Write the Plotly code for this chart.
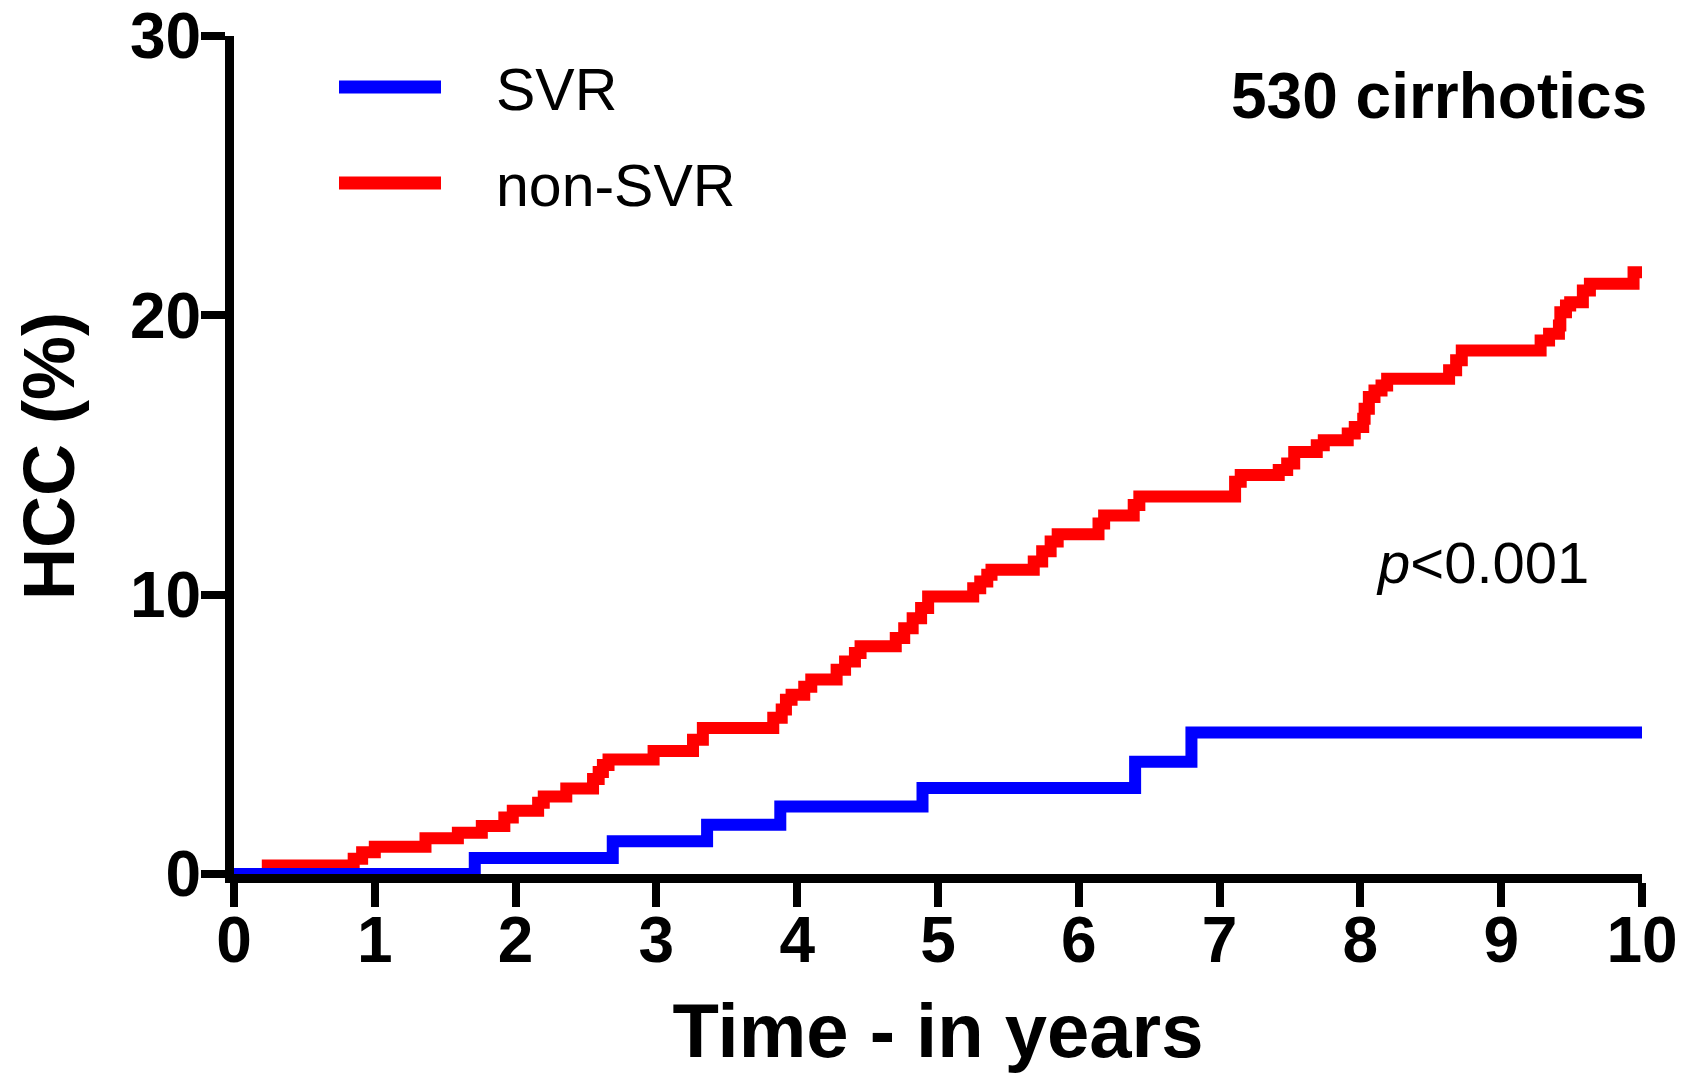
import plotly.graph_objects as go

# Cumulative HCC incidence (%) by follow-up time (years), step functions
svr_time = [0.0, 1.71, 2.69, 3.36, 3.88, 4.89, 6.40, 6.80, 10.0]
svr_pct = [0.0, 0.57, 1.17, 1.76, 2.42, 3.08, 4.02, 5.07, 5.07]

nonsvr_time = [0.0, 0.24, 0.85, 0.91, 1.00, 1.36, 1.59, 1.76, 1.92, 1.98,
               2.16, 2.20, 2.36, 2.55, 2.59, 2.62, 2.66, 2.98, 3.26, 3.33,
               3.83, 3.89, 3.92, 3.96, 4.05, 4.10, 4.28, 4.34, 4.41, 4.45,
               4.70, 4.76, 4.82, 4.88, 4.93, 5.25, 5.30, 5.35, 5.38, 5.68,
               5.74, 5.80, 5.85, 6.14, 6.18, 6.39, 6.43, 7.11, 7.15, 7.42,
               7.48, 7.53, 7.69, 7.74, 7.91, 7.96, 8.02, 8.03, 8.06, 8.10,
               8.15, 8.19, 8.63, 8.68, 8.72, 9.28, 9.34, 9.41, 9.42, 9.46,
               9.49, 9.58, 9.63, 9.94, 10.0]
nonsvr_pct = [0.0, 0.30, 0.55, 0.78, 0.98, 1.28, 1.48, 1.72, 2.02, 2.26,
              2.55, 2.77, 3.06, 3.40, 3.65, 3.90, 4.10, 4.40, 4.81, 5.23,
              5.59, 5.89, 6.24, 6.42, 6.70, 6.96, 7.31, 7.61, 7.91, 8.15,
              8.45, 8.80, 9.16, 9.52, 9.93, 10.23, 10.47, 10.71, 10.89, 11.19,
              11.55, 11.90, 12.16, 12.55, 12.83, 13.21, 13.51, 14.04, 14.28, 14.46,
              14.70, 15.11, 15.35, 15.53, 15.77, 16.00, 16.30, 16.66, 17.08, 17.31,
              17.49, 17.73, 18.03, 18.39, 18.74, 19.10, 19.34, 19.64, 20.11, 20.35,
              20.47, 20.89, 21.13, 21.54, 21.54]

x_ticks = list(range(0, 11))
y_ticks = [0, 10, 20, 30]

series_names = ["SVR", "non-SVR"]
series_colors = ["#0000ff", "#ff0000"]

W, H = 1693, 1073
L, R, T, B = 234, 51, 36, 199
FONT = "Liberation Sans, Arial, Helvetica, sans-serif"


def px(x):
    return (x - L) / (W - L - R)


def py(y):
    return (H - B - y) / (H - T - B)


fig = go.Figure()
# non-SVR first so the SVR curve sits on top along the baseline
fig.add_trace(go.Scatter(x=nonsvr_time, y=nonsvr_pct, mode="lines",
                         line=dict(shape="hv", color=series_colors[1], width=12),
                         name=series_names[1], showlegend=False))
fig.add_trace(go.Scatter(x=svr_time, y=svr_pct, mode="lines",
                         line=dict(shape="hv", color=series_colors[0], width=12),
                         name=series_names[0], showlegend=False))

axis_common = dict(showline=True, linewidth=9, linecolor="black",
                   ticks="outside", ticklen=24, tickwidth=8, tickcolor="black",
                   showgrid=False, zeroline=False, automargin=False,
                   tickfont=dict(family=FONT, size=64, color="black", weight="bold"))

fig.update_xaxes(range=[0, 10], tickvals=x_ticks, ticklabelstandoff=-22,
                 title=dict(text="Time - in years", standoff=58,
                            font=dict(family=FONT, size=76, color="black", weight="bold")),
                 **axis_common)
fig.update_yaxes(range=[0, 30], tickvals=y_ticks, ticklabelstandoff=-13,
                 **axis_common)

# Legend drawn as line samples with labels
shapes = []
annotations = []
for name, color, ly, ty in zip(series_names, series_colors, [87, 183], [90, 186]):
    shapes.append(dict(type="line", xref="paper", yref="paper",
                       x0=px(339), x1=px(441), y0=py(ly), y1=py(ly),
                       line=dict(color=color, width=13)))
    annotations.append(dict(text=name, xref="paper", yref="paper",
                            x=px(494), y=py(ty), xanchor="left", yanchor="middle",
                            showarrow=False,
                            font=dict(family=FONT, size=59, color="black")))

# Vertical axis title
annotations.append(dict(text="HCC (%)", xref="paper", yref="paper",
                        x=px(49), y=py(456), xanchor="center", yanchor="middle",
                        textangle=-90, showarrow=False,
                        font=dict(family=FONT, size=72, color="black", weight="bold")))

annotations.append(dict(text="530 cirrhotics", xref="paper", yref="paper",
                        x=px(1649), y=py(96), xanchor="right", yanchor="middle",
                        showarrow=False,
                        font=dict(family=FONT, size=64, color="black", weight="bold")))
annotations.append(dict(text="<i>p</i>&lt;0.001", xref="paper", yref="paper",
                        x=px(1374), y=py(562), xanchor="left", yanchor="middle",
                        showarrow=False,
                        font=dict(family=FONT, size=58, color="black")))

fig.update_layout(width=W, height=H, margin=dict(l=L, r=R, t=T, b=B, autoexpand=False),
                  paper_bgcolor="white", plot_bgcolor="white",
                  shapes=shapes, annotations=annotations, showlegend=False)

fig.write_html("out.html")
